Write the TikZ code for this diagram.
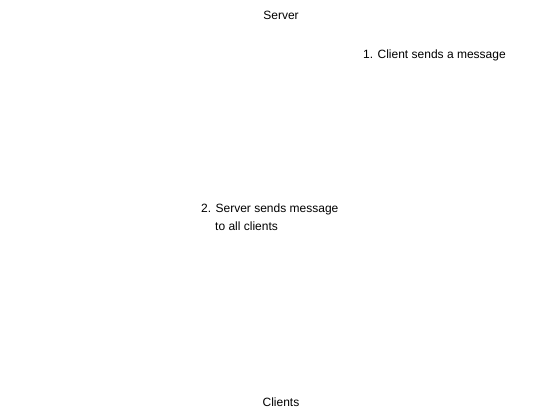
\documentclass[tikz,border=0pt]{standalone}
\usepackage{fontspec}
\setmainfont{Liberation Sans}
\begin{document}
\begin{tikzpicture}[x=1pt,y=-1pt,
  lbl/.style={inner sep=0pt, font=\fontsize{12}{14}\selectfont, text=black}]
\useasboundingbox (0,0) rectangle (552,419);
\node[lbl] (server) at (281,15) {Server};
\node[lbl, anchor=west] (step1) at (363,55) {1. Client sends a message};
\node[lbl, anchor=north west, align=left, font=\fontsize{12}{18}\selectfont] (step2) at (201,204) {2. Server sends message\\\hspace*{14pt}to all clients};
\node[lbl] (clients) at (281,402) {Clients};
\end{tikzpicture}
\end{document}
